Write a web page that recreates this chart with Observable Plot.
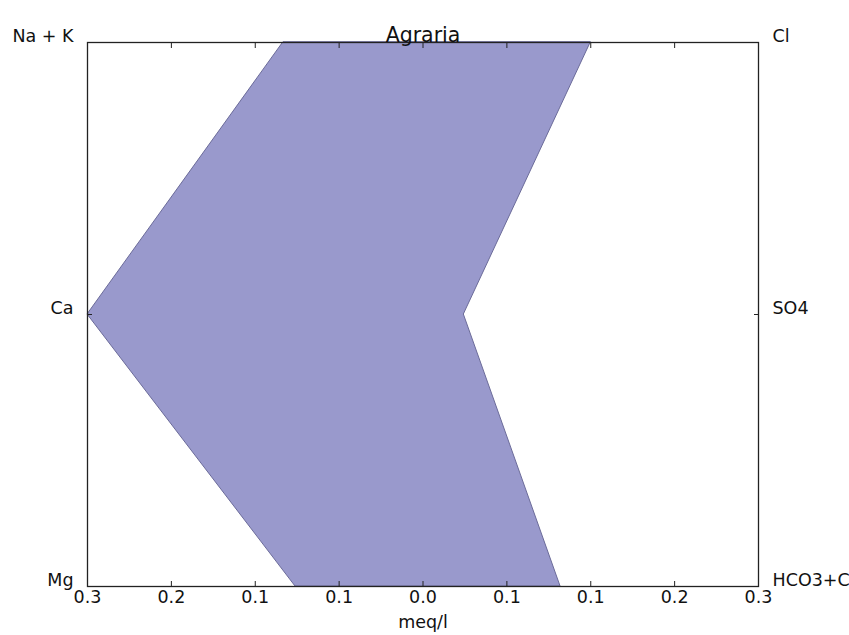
<!DOCTYPE html>
<html>
<head>
<meta charset="utf-8">
<script src="https://cdn.jsdelivr.net/npm/d3@7"></script>
<script src="https://cdn.jsdelivr.net/npm/@observablehq/plot@0.6"></script>
<style>
  html, body { margin: 0; padding: 0; background: #fff; }
  svg { font-family: "DejaVu Sans", sans-serif; }
</style>
</head>
<body>
<div id="chart"></div>
<script>
// Stiff diagram: cations to the left, anions to the right (meq/l)
const title = "Agraria";
const cations = ["Na + K", "Ca", "Mg"];
const cationValues = [0.125, 0.3, 0.114];
const anions = ["Cl", "SO4", "HCO3+CO3"];
const anionValues = [0.15, 0.0365, 0.123];
const xTicks = [-0.3, -0.225, -0.15, -0.075, 0, 0.075, 0.15, 0.225, 0.3];
const xTickLabels = ["0.3", "0.2", "0.1", "0.1", "0.0", "0.1", "0.1", "0.2", "0.3"];
const xLabel = "meq/l";

const rows = cations.map((c, i) => ({
  i,
  cation: c,
  anion: anions[i],
  left: -cationValues[i],
  right: anionValues[i]
}));
const levels = rows.map(d => d.i);

const labelSize = 17.5;

const chart = Plot.plot({
  width: 849,
  height: 635,
  marginLeft: 87,
  marginRight: 91,
  marginTop: 42,
  marginBottom: 49,
  style: { fontFamily: "DejaVu Sans, sans-serif", fontSize: "17px", background: "#fff" },
  x: { domain: [-0.3, 0.3] },
  y: { domain: [0, cations.length - 1], reverse: true },
  marks: [
    Plot.areaX(rows, { y: "i", x1: "left", x2: "right", fill: "#9999cc", stroke: "#6b6b99", strokeWidth: 1 }),
    Plot.frame({ stroke: "#222", strokeWidth: 1.3 }),
    // inward tick marks on all four sides
    Plot.axisX({ anchor: "bottom", ticks: xTicks, tickSize: -5, tickFormat: () => "", label: null, stroke: "#222" }),
    Plot.axisX({ anchor: "top", ticks: xTicks, tickSize: -5, tickFormat: () => "", label: null, stroke: "#222" }),
    Plot.axisY({ anchor: "left", ticks: levels, tickSize: -5, tickFormat: () => "", label: null, stroke: "#222" }),
    Plot.axisY({ anchor: "right", ticks: levels, tickSize: -5, tickFormat: () => "", label: null, stroke: "#222" }),
    // tick labels
    Plot.text(xTicks, { x: d => d, text: (d, k) => xTickLabels[k], frameAnchor: "bottom", dy: 16, fill: "#111", fontSize: labelSize }),
    Plot.text(rows, { x: () => -0.3, y: "i", text: "cation", textAnchor: "end", dx: -14, dy: -6, fill: "#111", fontSize: labelSize }),
    Plot.text(rows, { x: () => 0.3, y: "i", text: "anion", textAnchor: "start", dx: 14, dy: -6, fill: "#111", fontSize: labelSize }),
    Plot.text([xLabel], { text: d => d, frameAnchor: "bottom", dy: 41.5, fill: "#111", fontSize: labelSize }),
    Plot.text([title], { text: d => d, frameAnchor: "top", dy: -15.5, fill: "#111", fontSize: 20.5 })
  ]
});
document.getElementById("chart").appendChild(chart);
</script>
</body>
</html>
